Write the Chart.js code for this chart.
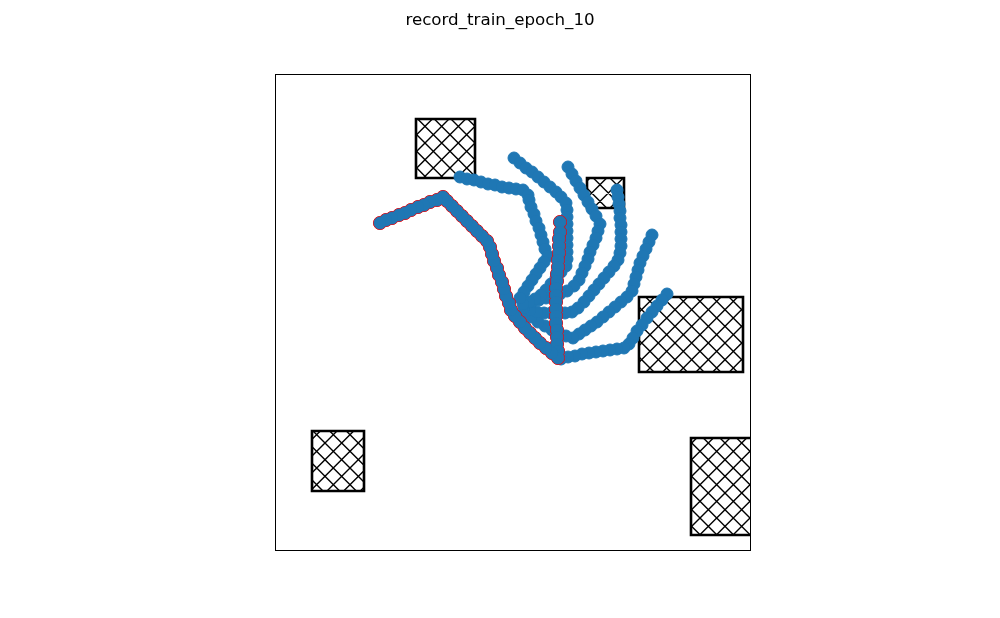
<!DOCTYPE html>
<html><head><meta charset="utf-8">
<script src="https://cdn.jsdelivr.net/npm/chart.js@4"></script>
<style>html,body{margin:0;padding:0;background:#fff}</style>
</head><body>
<canvas id="c" width="1000" height="618"></canvas>
<script>
const titleText = 'record_train_epoch_10';
const xRange = [0, 475];
const yRange = [0, 476];

// highlighted trajectory (red edged)
const redX = [285,285,284,284,284,283,283,282,282,281,281,281,281,281,281,282,282,282,283,283,277,271,265,260,255,250,245,240,236,234,231,229,227,224,222,219,217,215,212,207,202,197,192,187,182,177,172,168,162,155,149,143,136,130,124,117,111,105];
const redY = [328,318,311,304,297,290,283,276,269,262,255,248,241,234,227,220,213,206,199,192,197,202,207,212,217,222,228,234,240,247,254,261,268,275,282,289,296,303,309,314,319,324,329,334,339,344,349,353,350,348,345,343,340,337,335,332,330,327];

// other trajectories
const traj1X = [185,192,199,206,213,220,227,234,241,248,253,254,256,259,261,264,266,268,270,273,269,265,261,257,253,249,245];
const traj1Y = [373,371,370,368,366,365,363,362,361,360,355,350,343,336,329,322,315,308,301,294,288,282,276,270,264,258,252];
const traj2X = [239,245,251,257,263,269,275,281,286,291,292,292,292,292,292,292,292,292,291,286,281,276,271,266,260,254,248];
const traj2Y = [392,387,382,378,373,368,363,358,353,347,340,333,326,319,312,305,298,291,284,278,272,266,260,255,251,248,246];
const traj3X = [293,297,301,305,309,313,317,321,325,323,321,318,315,313,310,307,304,299,292,285,278,271,264,257,250];
const traj3Y = [383,376,369,362,355,348,341,334,326,319,312,305,298,291,284,277,270,264,259,256,254,252,250,248,246];
const traj4X = [342,343,344,345,345,346,346,346,346,345,343,339,334,329,324,319,314,309,303,297,290,283,276,269,262,255,249];
const traj4Y = [360,353,346,339,332,325,318,311,304,297,290,284,278,272,266,260,254,248,242,238,237,237,237,237,238,240,242];
const traj5X = [377,374,371,368,365,363,361,359,357,352,346,340,334,328,322,316,310,304,298,291,284,277,270,263,256,250];
const traj5Y = [315,308,301,294,287,280,273,266,259,253,248,243,238,233,228,224,220,216,212,214,217,220,224,228,233,238];
const traj6X = [392,387,382,377,372,367,362,358,354,349,342,335,328,321,314,307,300,293,286];
const traj6Y = [256,250,244,238,232,225,219,212,206,202,201,200,199,198,197,196,194,193,191];

// obstacles (hatched rectangles)
const obstacleX0 = [141, 312, 364, 37, 416];
const obstacleX1 = [200, 349, 468, 89, 485];
const obstacleY0 = [372, 342, 178, 59, 15];
const obstacleY1 = [431, 372, 253, 119, 112];

const zip = (xs, ys) => xs.map((v, i) => ({x: v, y: ys[i]}));
const blue = '#1f77b4';
const blueSets = [[traj1X,traj1Y],[traj2X,traj2Y],[traj3X,traj3Y],[traj4X,traj4Y],[traj5X,traj5Y],[traj6X,traj6Y]];
const datasets = blueSets.map(([xs, ys], i) => ({
  data: zip(xs, ys), backgroundColor: blue, borderColor: blue, borderWidth: 1,
  pointRadius: 6, pointHoverRadius: 6, order: 10 + i
}));
// red edge layer under the highlighted trajectory, then its blue body on top
datasets.push({data: zip(redX, redY), backgroundColor: '#ff0000', borderColor: '#ff0000', borderWidth: 1, pointRadius: 6.6, pointHoverRadius: 6.6, order: 2});
datasets.push({data: zip(redX, redY), backgroundColor: blue, borderColor: blue, borderWidth: 1, pointRadius: 6, pointHoverRadius: 6, order: 1});

const obstaclePlugin = {
  id: 'obstacles',
  beforeDatasetsDraw(chart) {
    const {ctx, chartArea: a, scales: {x, y}} = chart;
    const H = chart.height, d = 100 / 6;
    ctx.save();
    ctx.beginPath(); ctx.rect(a.left, a.top, a.right - a.left, a.bottom - a.top); ctx.clip();
    for (let i = 0; i < obstacleX0.length; i++) {
      const L = x.getPixelForValue(obstacleX0[i]), R = x.getPixelForValue(obstacleX1[i]);
      const T = y.getPixelForValue(obstacleY1[i]), B = y.getPixelForValue(obstacleY0[i]);
      ctx.save();
      ctx.beginPath(); ctx.rect(L, T, R - L, B - T);
      ctx.fillStyle = '#fff'; ctx.fill(); ctx.clip();
      ctx.beginPath();
      const k1 = Math.floor((H - (R + B)) / d) - 1, k2 = Math.ceil((H - (L + T)) / d) + 1;
      for (let k = k1; k <= k2; k++) {
        const b = H - k * d;
        ctx.moveTo(L - 20, b - (L - 20)); ctx.lineTo(R + 20, b - (R + 20));
      }
      const m1 = Math.floor((H - (B - L)) / d) - 1, m2 = Math.ceil((H - (T - R)) / d) + 1;
      for (let k = m1; k <= m2; k++) {
        const b = H - k * d;
        ctx.moveTo(L - 20, L - 20 + b); ctx.lineTo(R + 20, R + 20 + b);
      }
      ctx.strokeStyle = '#000'; ctx.lineWidth = 1.4; ctx.stroke();
      ctx.restore();
      ctx.beginPath(); ctx.rect(L, T, R - L, B - T);
      ctx.strokeStyle = '#000'; ctx.lineWidth = 2.6; ctx.lineJoin = 'miter'; ctx.stroke();
    }
    ctx.restore();
  },
  afterDatasetsDraw(chart) {
    const {ctx, chartArea: a} = chart;
    ctx.save();
    ctx.strokeStyle = '#000'; ctx.lineWidth = 1;
    ctx.strokeRect(Math.round(a.left) + 0.5, Math.round(a.top) + 0.5, Math.round(a.right - a.left), Math.round(a.bottom - a.top));
    ctx.restore();
  },
  afterDraw(chart) {
    const ctx = chart.ctx;
    ctx.save();
    ctx.fillStyle = '#000';
    ctx.font = '16.7px "DejaVu Sans"';
    ctx.textAlign = 'center'; ctx.textBaseline = 'alphabetic';
    ctx.fillText(titleText, chart.width / 2, 25);
    ctx.restore();
  }
};

new Chart(document.getElementById('c'), {
  type: 'scatter',
  data: {datasets},
  plugins: [obstaclePlugin],
  options: {
    responsive: false, animation: false, devicePixelRatio: 1,
    layout: {padding: {left: 275, right: 250, top: 74, bottom: 68}},
    plugins: {
      legend: {display: false}, tooltip: {enabled: false}, title: {display: false}
    },
    scales: {
      x: {type: 'linear', min: xRange[0], max: xRange[1], display: false},
      y: {type: 'linear', min: yRange[0], max: yRange[1], display: false}
    }
  }
});
</script>
</body></html>
